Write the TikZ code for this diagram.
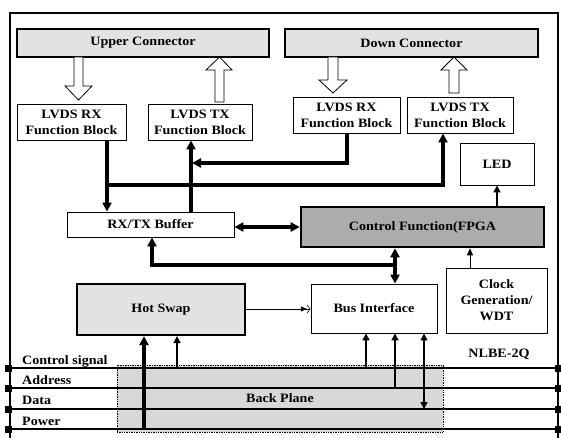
\documentclass[tikz,border=0pt]{standalone}
\usepackage{fontspec}
\setmainfont{Liberation Serif}[FakeStretch=1.1]
\usetikzlibrary{arrows.meta}
\definecolor{lightg}{RGB}{226,226,226}
\definecolor{bpg}{RGB}{216,216,216}
\definecolor{fpgag}{RGB}{172,172,172}
\begin{document}
\begin{tikzpicture}[x=1pt,y=-1pt,
  every node/.style={font=\bfseries\fontsize{12.8}{16}\selectfont, align=center, inner sep=0pt},
  blk/.style={draw, line width=0.9pt, fill=white},
  tblk/.style={draw, line width=2.6pt},
  thk/.style={line width=3.2pt, -{Triangle[length=9pt,width=9pt]}},
  thkd/.style={line width=3.2pt, {Triangle[length=9pt,width=9pt]}-{Triangle[length=9pt,width=9pt]}},
  med/.style={line width=1.7pt, -{Triangle[length=7pt,width=7pt]}},
  medd/.style={line width=1.4pt, {Triangle[length=7pt,width=7pt]}-{Triangle[length=7pt,width=7pt]}},
  hollow/.style={draw, line width=0.8pt, fill=white},
  busline/.style={line width=2pt},
  sq/.style={fill=black}
]
\useasboundingbox (0,0) rectangle (561,438);
% outer frame
\draw[line width=1.5pt] (10,440) -- (10,13) -- (558,13) -- (558,440);

% backplane
\node[draw, densely dotted, line width=0.7pt, fill=bpg, minimum width=326pt, minimum height=67pt] (bp) at (280,398.5) {};
\node (bptxt) at (280,398.5) {Back Plane};

% connectors
\node[tblk, fill=lightg, minimum width=252pt, minimum height=28pt] (upc) at (143,43) {Upper Connector};
\node[tblk, fill=lightg, minimum width=253pt, minimum height=28pt] (dnc) at (411.5,43) {Down Connector};

% function blocks
\node[blk, minimum width=109pt, minimum height=36pt] (rx1) at (71.5,122) {LVDS RX\\Function Block};
\node[blk, minimum width=104pt, minimum height=36pt] (tx1) at (200,122) {LVDS TX\\Function Block};
\node[blk, minimum width=107pt, minimum height=36pt] (rx2) at (346.5,115) {LVDS RX\\Function Block};
\node[blk, minimum width=106pt, minimum height=36pt] (tx2) at (460,115) {LVDS TX\\Function Block};
\node[blk, minimum width=74pt, minimum height=42pt] (led) at (497,164) {LED};
\node[blk, minimum width=167pt, minimum height=25pt] (buf) at (150.5,224.5) {RX/TX Buffer};
\node[tblk, fill=fpgag, minimum width=243pt, minimum height=40pt] (fpga) at (422.5,227) {Control Function(FPGA};
\node[blk, minimum width=126pt, minimum height=49pt] (bus) at (374,308.5) {Bus Interface};
\node[blk, minimum width=101pt, minimum height=65pt] (clk) at (496.5,300.5) {Clock\\Generation/\\WDT};
\node[tblk, line width=2.2pt, fill=lightg, minimum width=168pt, minimum height=51pt] (hot) at (161,309.5) {Hot Swap};
\node (nlbe) at (499,354) {NLBE-2Q};

% hollow arrows
\draw[hollow] (74,57) -- (83,57) -- (83,86) -- (92,86) -- (78.5,100) -- (65,86) -- (74,86) -- cycle;
\draw[hollow] (215,102) -- (224,102) -- (224,70) -- (232,70) -- (219.5,57) -- (206,70) -- (215,70) -- cycle;
\draw[hollow] (328,57) -- (338,57) -- (338,80) -- (347,80) -- (333,93) -- (319,80) -- (328,80) -- cycle;
\draw[hollow] (449,93) -- (459,93) -- (459,70) -- (467,70) -- (454,57) -- (441,70) -- (449,70) -- cycle;

% connectors between blocks
\coordinate (j1) at (107,185);
\coordinate (c2) at (443,185);
\draw[thk] (rx1.south -| j1) -- (buf.north -| j1);
\draw[thk] (j1) -- (c2) -- (tx2.south -| c2);
\coordinate (j2) at (191,163);
\coordinate (k) at (347,163);
\draw[thk] (buf.north -| j2) -- (tx1.south -| j2);
\draw[thk] (rx2.south -| k) -- (k) -- ([xshift=1pt]j2);
\draw[thkd] (buf.east |- fpga.west) -- (fpga.west);
\draw[med] (fpga.north -| led.south) -- (led.south);
\coordinate (m) at (470,0);
\draw[line width=1pt, -{Triangle[length=7pt,width=6pt]}] (clk.north -| m) -- (fpga.south -| m);
\coordinate (n1) at (152,265);
\coordinate (n2) at (395,265);
\draw[thk] (n2) -- (n1) -- (buf.south -| n1);
\draw[thkd] (fpga.south -| n2) -- (bus.north -| n2);
\draw[line width=0.8pt, -{Triangle[length=6pt,width=5pt] Straight Barb[length=3pt,width=8pt,line width=0.6pt]}] (hot.east |- 0,309) -- (bus.west |- 0,309);

% bus lines
\foreach \nm/\yy in {cs/368, ad/388, da/409, pw/429}{
  \coordinate (\nm L) at (10,\yy);
  \coordinate (\nm R) at (558,\yy);
  \draw[busline] (\nm L) -- (\nm R);
  \fill[sq] (5,\yy-3.5) rectangle (12,\yy+3.5);
  \fill[sq] (555,\yy-3.5) rectangle (562,\yy+3.5);
}
\node[anchor=base west] (lcs) at (22,364) {Control signal};
\node[anchor=base west] (lad) at (22,384) {Address};
\node[anchor=base west] (lda) at (22,404) {Data};
\node[anchor=base west] (lpw) at (22,425) {Power};

% backplane to hot swap
\coordinate (p1) at (144,429);
\coordinate (p2) at (177,368);
\draw[thk] (p1) -- (hot.south -| p1);
\draw[med] (p2) -- (hot.south -| p2);
% backplane to bus interface
\coordinate (q1) at (366,368);
\coordinate (q2) at (395,388);
\coordinate (q3) at (424,409);
\draw[med] (q1) -- (bus.south -| q1);
\draw[med] (q2) -- (bus.south -| q2);
\draw[medd] (q3) -- (bus.south -| q3);
\end{tikzpicture}
\end{document}
